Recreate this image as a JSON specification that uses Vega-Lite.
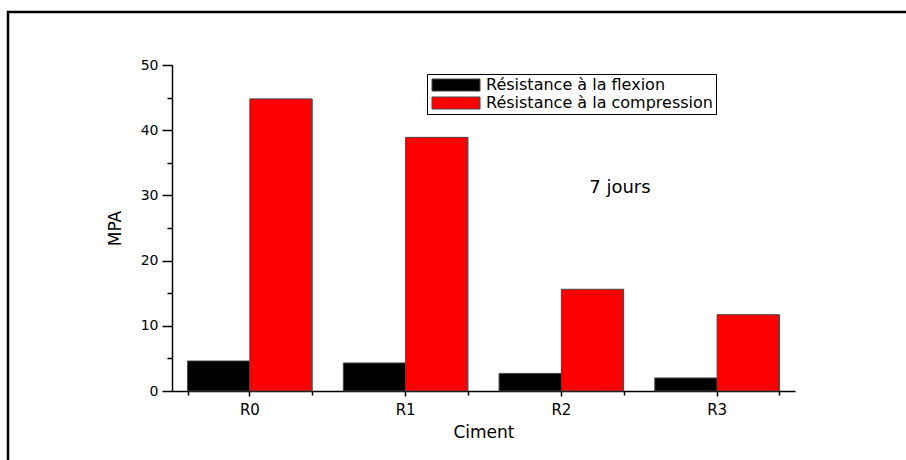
{
  "$schema": "https://vega.github.io/schema/vega-lite/v6.json",
  "width": 906,
  "height": 455,
  "autosize": {"type": "none"},
  "padding": {"left": 8, "top": 12, "right": 0, "bottom": 0},
  "background": "white",
  "config": {
    "view": {"stroke": "black", "strokeWidth": 2.5},
    "font": "DejaVu Sans",
    "axis": {
      "grid": false,
      "domainColor": "black",
      "domainWidth": 1.5,
      "tickColor": "black",
      "tickWidth": 1.5,
      "labelColor": "black",
      "titleColor": "black",
      "titleFontWeight": "normal",
      "labelFont": "DejaVu Sans",
      "titleFont": "DejaVu Sans"
    }
  },
  "data": {
    "values": [
      {"Ciment": "R0", "type": "Résistance à la flexion", "MPA": 4.6},
      {"Ciment": "R0", "type": "Résistance à la compression", "MPA": 44.8},
      {"Ciment": "R1", "type": "Résistance à la flexion", "MPA": 4.3},
      {"Ciment": "R1", "type": "Résistance à la compression", "MPA": 38.9},
      {"Ciment": "R2", "type": "Résistance à la flexion", "MPA": 2.7},
      {"Ciment": "R2", "type": "Résistance à la compression", "MPA": 15.6},
      {"Ciment": "R3", "type": "Résistance à la flexion", "MPA": 2.0},
      {"Ciment": "R3", "type": "Résistance à la compression", "MPA": 11.7}
    ]
  },
  "layer": [
    {
      "mark": {"type": "bar", "stroke": "#444444", "strokeWidth": 1},
      "encoding": {
        "x": {
          "field": "Ciment",
          "type": "nominal",
          "sort": null,
          "scale": {"range": [164, 787], "paddingInner": 0.2, "paddingOuter": 0.1},
          "axis": {
            "orient": "bottom",
            "offset": -76,
            "labelAngle": 0,
            "tickSize": 5,
            "labelPadding": 6,
            "labelFontSize": 15,
            "title": "Ciment",
            "titleFontSize": 17,
            "titlePadding": 7
          }
        },
        "xOffset": {
          "field": "type",
          "type": "nominal",
          "sort": ["Résistance à la flexion", "Résistance à la compression"],
          "scale": {"paddingInner": 0, "paddingOuter": 0}
        },
        "y": {
          "field": "MPA",
          "type": "quantitative",
          "scale": {"domain": [0, 50], "range": [379, 53], "nice": false},
          "axis": {
            "orient": "left",
            "offset": -164,
            "values": [0, 10, 20, 30, 40, 50],
            "tickSize": 10,
            "labelFontSize": 14,
            "labelPadding": 4,
            "title": "MPA",
            "titleFontSize": 17,
            "titlePadding": 16
          }
        },
        "color": {
          "field": "type",
          "type": "nominal",
          "scale": {
            "domain": ["Résistance à la flexion", "Résistance à la compression"],
            "range": ["#000000", "#ff0000"]
          },
          "legend": {
            "orient": "none",
            "legendX": 419,
            "legendY": 62,
            "title": null,
            "strokeColor": "black",
            "fillColor": "white",
            "padding": 3,
            "labelFontSize": 16,
            "labelLimit": 500,
            "labelFont": "DejaVu Sans",
            "labelColor": "black",
            "symbolType": "M-1,-1H7V1H-1Z",
            "symbolSize": 144,
            "symbolStrokeColor": "#444444",
            "symbolStrokeWidth": 1,
            "symbolOpacity": 1,
            "labelOffset": 40,
            "rowPadding": 2
          }
        }
      }
    },
    {
      "mark": {"type": "point", "opacity": 0},
      "encoding": {
        "x": {
          "field": "Ciment",
          "type": "nominal",
          "sort": null,
          "axis": {
            "orient": "bottom",
            "offset": -76,
            "tickBand": "extent",
            "labels": false,
            "domain": false,
            "tickSize": 4,
            "title": null
          }
        },
        "y": {
          "field": "MPA",
          "type": "quantitative",
          "axis": {
            "orient": "left",
            "offset": -164,
            "values": [5, 15, 25, 35, 45],
            "labels": false,
            "domain": false,
            "tickSize": 5,
            "title": null
          }
        }
      }
    },
    {
      "data": {"values": [{"Ciment": "R2", "MPA": 31.2, "label": "7 jours"}]},
      "mark": {"type": "text", "fontSize": 18, "font": "DejaVu Sans", "color": "black"},
      "encoding": {
        "x": {"field": "Ciment", "type": "nominal", "bandPosition": 0.97, "axis": null},
        "y": {"field": "MPA", "type": "quantitative", "axis": null},
        "text": {"field": "label"}
      }
    }
  ],
  "resolve": {"axis": {"x": "independent", "y": "independent"}}
}
